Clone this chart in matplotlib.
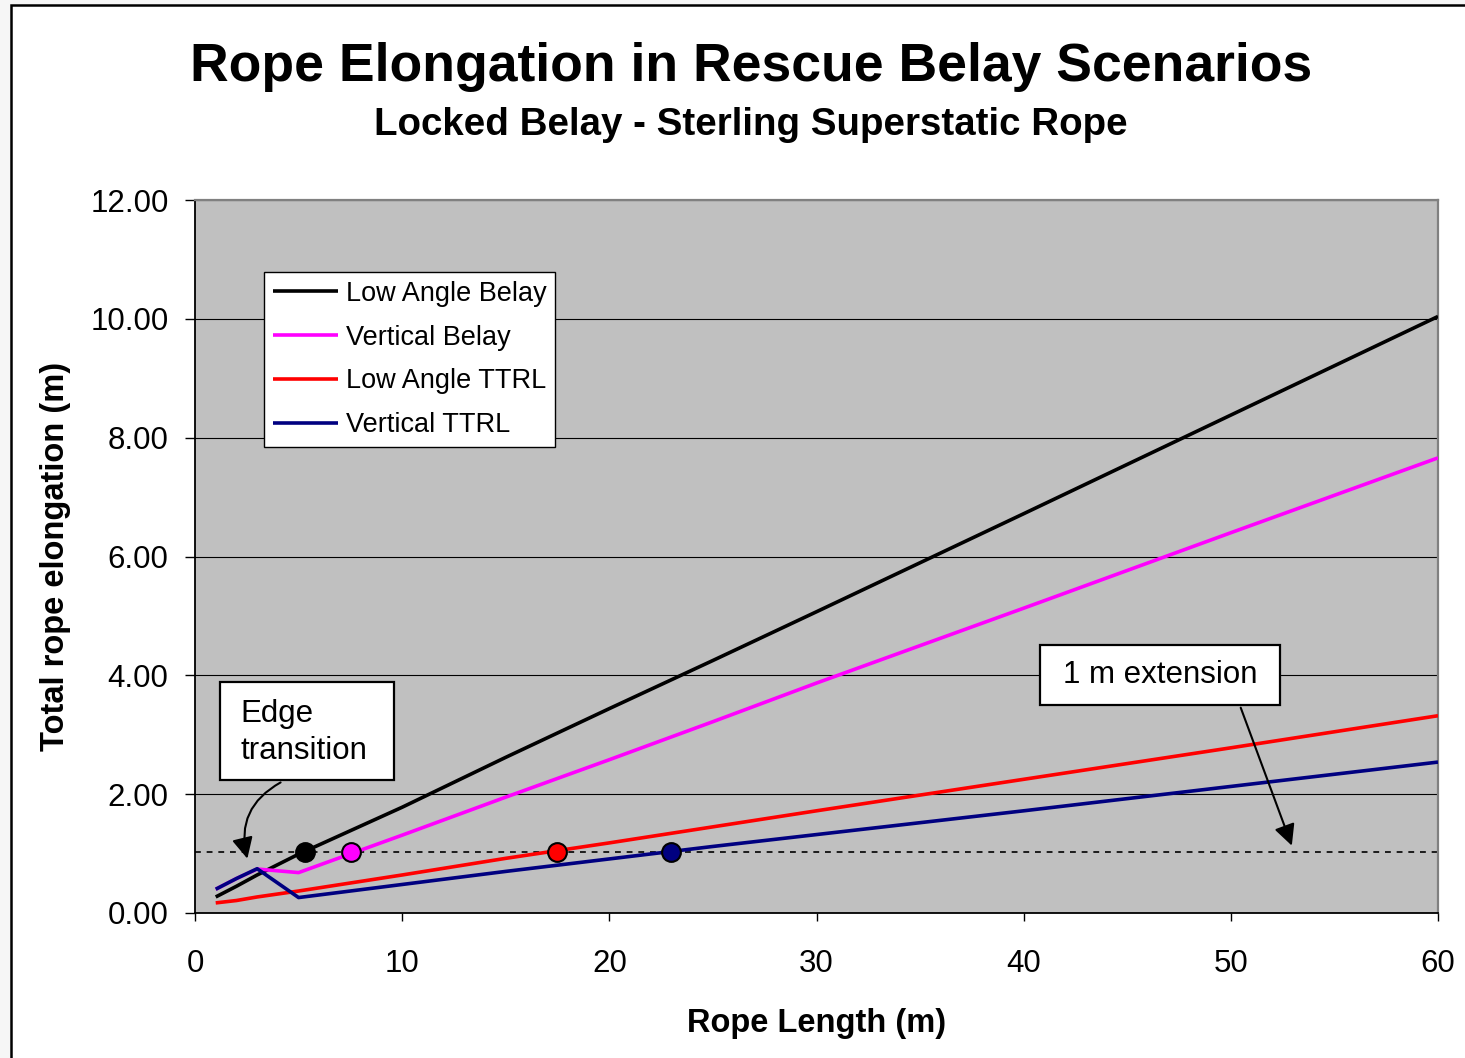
import matplotlib.pyplot as plt
from matplotlib.patches import Rectangle

plt.rcParams['font.family'] = ['Liberation Sans', 'DejaVu Sans']

# rope length (m) at which each elongation was computed
rope_length = [1, 2, 3, 5, 10, 15, 20, 25, 30, 40, 50, 60]

# total elongation (m) for each scenario
low_angle_belay = [0.27, 0.45, 0.64, 0.99, 1.78, 2.62, 3.44, 4.25, 5.07, 6.72, 8.38, 10.04]
vertical_belay = [0.40, 0.58, 0.74, 0.68, 1.31, 1.95, 2.58, 3.22, 3.87, 5.13, 6.40, 7.66]
low_angle_ttrl = [0.17, 0.21, 0.27, 0.37, 0.64, 0.92, 1.18, 1.45, 1.72, 2.25, 2.78, 3.32]
vertical_ttrl = [0.40, 0.58, 0.745, 0.26, 0.48, 0.70, 0.91, 1.12, 1.32, 1.72, 2.13, 2.54]

# rope length where each scenario reaches the 1 m extension line
extension_limit = 1.03
crossing_length = [5.3, 7.55, 17.45, 22.97]

names = ["Low Angle Belay", "Vertical Belay", "Low Angle TTRL", "Vertical TTRL"]
colors = ["#000000", "#FF00FF", "#FF0000", "#000080"]
series = [low_angle_belay, vertical_belay, low_angle_ttrl, vertical_ttrl]

fig = plt.figure(figsize=(14.65, 10.58), dpi=100)
fig.patch.set_facecolor("#F6F6F6")
frame = Rectangle((11 / 1465, -0.05), 1.1, 1 - 5 / 1058 + 0.05,
                  transform=fig.transFigure, facecolor="white",
                  edgecolor="black", linewidth=1.8)
frame.set_zorder(-10)
fig.add_artist(frame)

ax = fig.add_axes([195 / 1465, 145 / 1058, 1243 / 1465, 713 / 1058])
ax.set_zorder(1)
ax.set_facecolor("#C0C0C0")

for name, color, vals in zip(names, colors, series):
    ax.plot(rope_length, vals, color=color, linewidth=2.6, label=name,
            solid_capstyle="butt", zorder=3)

ax.axhline(extension_limit, color="black", linestyle=(0, (3.5, 3.5)),
           linewidth=1.2, zorder=2)

for x, color in zip(crossing_length, colors):
    ax.plot(x, extension_limit, "o", markersize=13.5, markerfacecolor=color,
            markeredgecolor="black", markeredgewidth=1.5, zorder=4)

ax.set_xlim(0, 60)
ax.set_ylim(0, 12)
ax.set_xticks(range(0, 61, 10))
ax.set_yticks(range(0, 13, 2))
ax.set_yticklabels([f"{v:.2f}" for v in range(0, 13, 2)])
ax.yaxis.grid(True, color="black", linewidth=0.8)
ax.set_axisbelow(True)
ax.tick_params(axis="y", direction="out", length=7, width=1, pad=12, labelsize=22.5)
ax.tick_params(axis="x", direction="out", length=6, width=1, pad=20, labelsize=22.5)

for side in ["left", "bottom"]:
    ax.spines[side].set_color("black")
    ax.spines[side].set_linewidth(1.3)
for side in ["top", "right"]:
    ax.spines[side].set_color("#808080")
    ax.spines[side].set_linewidth(1.6)

ax.set_xlabel("Rope Length (m)", fontsize=23.5, fontweight="bold")
ax.xaxis.set_label_coords(0.5, -0.133)
ax.set_ylabel("Total rope elongation (m)", fontsize=23.5, fontweight="bold")
ax.yaxis.set_label_coords(-0.1, 0.5)

leg = ax.legend(loc="upper left", bbox_to_anchor=(0.0555, 0.899),
                borderaxespad=0, fontsize=19.5, frameon=True, fancybox=False,
                edgecolor="black", framealpha=1, handlelength=2.4,
                handletextpad=0.3, labelspacing=0.66, borderpad=0.32)
leg.get_frame().set_linewidth(1.0)
for line in leg.get_lines():
    line.set_linewidth(2.6)

# "Edge transition" note with curved arrow
ax.add_patch(Rectangle((1.22, 2.24), 8.4, 1.65, facecolor="white",
                       edgecolor="black", linewidth=1.6, zorder=5))
ax.text(2.2, 3.04, "Edge\ntransition", fontsize=22.5, ha="left", va="center",
        linespacing=1.3, zorder=6)
ax.annotate("", xy=(2.56, 0.87), xytext=(4.25, 2.22),
            arrowprops=dict(arrowstyle="-|>", color="black", linewidth=1.5,
                            mutation_scale=32,
                            connectionstyle="arc3,rad=0.4"),
            zorder=6)

# "1 m extension" note with straight arrow
ax.add_patch(Rectangle((40.78, 3.50), 11.58, 1.01, facecolor="white",
                       edgecolor="black", linewidth=1.6, zorder=5))
ax.text(46.57, 4.005, "1 m extension", fontsize=22.5, ha="center", va="center",
        zorder=6)
ax.annotate("", xy=(52.99, 1.09), xytext=(50.43, 3.50),
            arrowprops=dict(arrowstyle="-|>", color="black", linewidth=1.5,
                            mutation_scale=32),
            zorder=6)

fig.text(751 / 1465, 1 - 81 / 1058, "Rope Elongation in Rescue Belay Scenarios",
         fontsize=38.5, fontweight="bold", ha="center", va="baseline")
fig.text(751 / 1465, 1 - 135 / 1058, "Locked Belay - Sterling Superstatic Rope",
         fontsize=27.7, fontweight="bold", ha="center", va="baseline")

fig.savefig("out.png", dpi=100, facecolor=fig.get_facecolor())
